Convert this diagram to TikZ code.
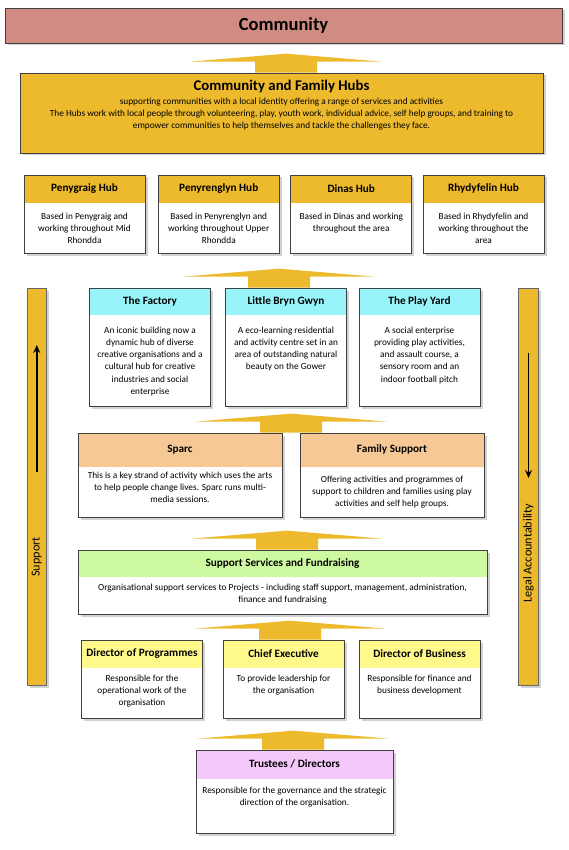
\documentclass[tikz,border=0pt]{standalone}
\usepackage{fontspec}
\setmainfont{Carlito}
\usetikzlibrary{positioning}
\usetikzlibrary{calc}
\usetikzlibrary{shadows}
\usetikzlibrary{arrows.meta}

\definecolor{hubgold}{RGB}{237,186,46}
\definecolor{commred}{RGB}{208,140,130}
\definecolor{projcyan}{RGB}{150,244,250}
\definecolor{artpeach}{RGB}{245,200,150}
\definecolor{supgreen}{RGB}{205,249,160}
\definecolor{diryellow}{RGB}{255,249,140}
\definecolor{trustlilac}{RGB}{245,200,250}

\tikzset{
  card/.style={draw=black!75, line width=0.7pt, fill=white, inner sep=0pt,
    drop shadow={shadow xshift=2.5pt, shadow yshift=-2.5pt, opacity=0.35}},
  hcard/.style 2 args={card,
    path picture={\fill[#1] (path picture bounding box.north west)
      rectangle ([yshift=-#2]path picture bounding box.north east);}},
  ttl/.style={font=\bfseries\fontsize{11.2}{13}\selectfont, inner sep=0pt},
  txt/.style={font=\fontsize{9.3}{12.2}\selectfont, align=center, inner sep=0pt, anchor=north},
  sidebar/.style={draw=black!60, line width=0.6pt, fill=hubgold, inner sep=0pt,
    minimum width=19.5, minimum height=397,
    drop shadow={shadow xshift=2.5pt, shadow yshift=-2.5pt, opacity=0.35}},
  sidetxt/.style={rotate=90, font=\fontsize{12.2}{14}\selectfont, inner sep=0pt},
  sidearr/.style={line width=1.8pt, -{Stealth[length=8pt,width=7pt]}},
  fatup/.pic={
    \fill[hubgold] (-31,0) -- (-31,-11) -- (-96,-11) -- (0,-19) -- (96,-11)
      -- (31,-11) -- (31,0) -- cycle;}
}

\begin{document}
\begin{tikzpicture}[x=1pt, y=-1pt]
\useasboundingbox[fill=white] (0,0) rectangle (569,850);

% top of the structure
\node[card, fill=commred, minimum width=557, minimum height=35,
  font=\bfseries\fontsize{18.5}{20}\selectfont] (comm) at (283.5,25.5) {Community};

\node[card, fill=hubgold, minimum width=523, minimum height=80] (hubs) at (281.5,113) {};
\node[inner sep=0pt, font=\bfseries\fontsize{14.8}{16}\selectfont] (hubsT)
  at ([yshift=-14pt]hubs.north) {Community and Family Hubs};
\node[txt] (hubsB) at ([yshift=-25pt]hubs.north)
  {supporting communities with a local identity offering a range of services and activities\\
   The Hubs work with local people through volunteering, play, youth work, individual advice, self help groups, and training to\\
   empower communities to help themselves and tackle the challenges they face.};

% hubs
\node[hcard={hubgold}{28pt}, minimum width=121, minimum height=78] (peny) at (84.5,214) {};
\node[ttl] (penyT) at ([yshift=-14pt]peny.north) {Penygraig Hub};
\node[txt] (penyB) at ([yshift=-38pt]peny.north) {Based in Penygraig and\\working throughout Mid\\Rhondda};

\node[hcard={hubgold}{28pt}, minimum width=121, minimum height=78] (pyr) at (218.75,214) {};
\node[ttl] (pyrT) at ([yshift=-14pt]pyr.north) {Penyrenglyn Hub};
\node[txt] (pyrB) at ([yshift=-38pt]pyr.north) {Based in Penyrenglyn and\\working throughout Upper\\Rhondda};

\node[hcard={hubgold}{28pt}, minimum width=121, minimum height=78] (din) at (351.25,214) {};
\node[ttl] (dinT) at ([yshift=-14pt]din.north) {Dinas Hub};
\node[txt] (dinB) at ([yshift=-38pt]din.north) {Based in Dinas and working\\throughout the area};

\node[hcard={hubgold}{28pt}, minimum width=121, minimum height=78] (rhy) at (483.5,214) {};
\node[ttl] (rhyT) at ([yshift=-14pt]rhy.north) {Rhydyfelin Hub};
\node[txt] (rhyB) at ([yshift=-38pt]rhy.north) {Based in Rhydyfelin and\\working throughout the\\area};

% projects
\node[hcard={projcyan}{27pt}, minimum width=121, minimum height=118] (fac) at (150,347) {};
\node[ttl] (facT) at ([yshift=-13.5pt]fac.north) {The Factory};
\node[txt] (facB) at ([yshift=-39pt]fac.north) {An iconic building now a\\dynamic hub of diverse\\creative organisations and a\\cultural hub for creative\\industries and social\\enterprise};

\node[hcard={projcyan}{27pt}, minimum width=121, minimum height=118] (lbg) at (286,347) {};
\node[ttl] (lbgT) at ([yshift=-13.5pt]lbg.north) {Little Bryn Gwyn};
\node[txt] (lbgB) at ([yshift=-39pt]lbg.north) {A eco-learning residential\\and activity centre set in an\\area of outstanding natural\\beauty on the Gower};

\node[hcard={projcyan}{27pt}, minimum width=121, minimum height=118] (play) at (419.5,347) {};
\node[ttl] (playT) at ([yshift=-13.5pt]play.north) {The Play Yard};
\node[txt] (playB) at ([yshift=-39pt]play.north) {A social enterprise\\providing play activities,\\and assault course, a\\sensory room and an\\indoor football pitch};

% arts and family
\node[hcard={artpeach}{34pt}, minimum width=204, minimum height=84] (sparc) at (180,475) {};
\node[ttl] (sparcT) at ([yshift=-17pt]sparc.north) {Sparc};
\node[txt] (sparcB) at ([yshift=-39pt]sparc.north) {This is a key strand of activity which uses the arts\\to help people change lives. Sparc runs multi-\\media sessions.};

\node[hcard={artpeach}{34pt}, minimum width=184, minimum height=84] (fam) at (392,475) {};
\node[ttl] (famT) at ([yshift=-17pt]fam.north) {Family Support};
\node[txt] (famB) at ([yshift=-43pt]fam.north) {Offering activities and programmes of\\support to children and families using play\\activities and self help groups.};

% support services
\node[hcard={supgreen}{27pt}, minimum width=409, minimum height=64] (ssf) at (282.5,582) {};
\node[ttl] (ssfT) at ([yshift=-13.5pt]ssf.north) {Support Services and Fundraising};
\node[txt] (ssfB) at ([yshift=-34pt]ssf.north) {Organisational support services to Projects - including staff support, management, administration,\\finance and fundraising};

% directors
\node[hcard={diryellow}{28pt}, minimum width=121, minimum height=78] (dop) at (142,679) {};
\node[ttl] (dopT) at ([yshift=-14pt]dop.north) {Director of Programmes};
\node[txt] (dopB) at ([yshift=-35pt]dop.north) {Responsible for the\\operational work of the\\organisation};

\node[hcard={diryellow}{28pt}, minimum width=121, minimum height=78] (ceo) at (283.5,679) {};
\node[ttl] (ceoT) at ([yshift=-14pt]ceo.north) {Chief Executive};
\node[txt] (ceoB) at ([yshift=-35pt]ceo.north) {To provide leadership for\\the organisation};

\node[hcard={diryellow}{28pt}, minimum width=121, minimum height=78] (dob) at (419.5,679) {};
\node[ttl] (dobT) at ([yshift=-14pt]dob.north) {Director of Business};
\node[txt] (dobB) at ([yshift=-35pt]dob.north) {Responsible for finance and\\business development};

% trustees
\node[hcard={trustlilac}{29pt}, minimum width=197, minimum height=83] (tru) at (294.5,791.5) {};
\node[ttl] (truT) at ([yshift=-14.5pt]tru.north) {Trustees / Directors};
\node[txt] (truB) at ([yshift=-37pt]tru.north) {Responsible for the governance and the strategic\\direction of the organisation.};

% big arrows between the levels
\pic at ([xshift=4.5pt]hubs.north) {fatup};
\pic at ([xshift=-7pt]lbg.north) {fatup};
\pic at ($(sparc.north east)!0.5!(fam.north west)$) {fatup};
\pic at ([xshift=4.5pt]ssf.north) {fatup};
\pic at ([xshift=6.5pt]ceo.north) {fatup};
\pic at ([xshift=-1.5pt]tru.north) {fatup};

% side bars
\node[sidebar] (sup) at (36.75,486.5) {};
\node[sidetxt] (supT) at (36.75,557) {Support};
\coordinate (supBot) at (36.75,472);
\coordinate (supTop) at (36.75,345);
\draw[sidearr] (supBot) -- (supTop);

\node[sidebar] (leg) at (528.5,486.5) {};
\node[sidetxt] (legT) at (528.5,553) {Legal Accountability};
\coordinate (legTop) at (528.5,353);
\coordinate (legBot) at (528.5,478);
\draw[sidearr] (legTop) -- (legBot);
\end{tikzpicture}
\end{document}
